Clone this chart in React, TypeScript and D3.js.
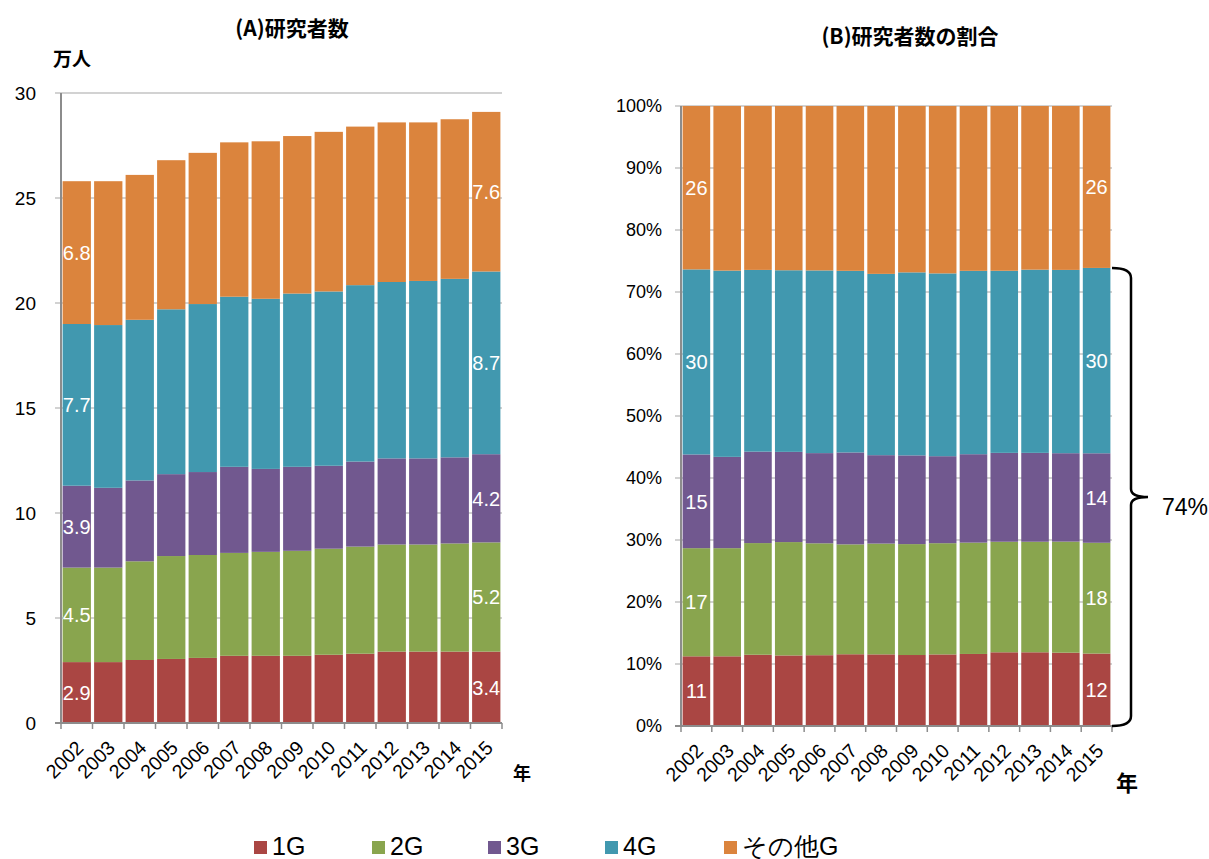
import * as d3 from "d3";

// 研究者数（万人）
const years = ["2002", "2003", "2004", "2005", "2006", "2007", "2008", "2009", "2010", "2011", "2012", "2013", "2014", "2015"];
const g1 = [2.9, 2.9, 3.0, 3.05, 3.1, 3.2, 3.2, 3.2, 3.25, 3.3, 3.4, 3.4, 3.4, 3.4];
const g2 = [4.5, 4.5, 4.7, 4.9, 4.9, 4.9, 4.95, 5.0, 5.05, 5.1, 5.1, 5.1, 5.15, 5.2];
const g3 = [3.9, 3.8, 3.85, 3.9, 3.95, 4.1, 3.95, 4.0, 3.95, 4.05, 4.1, 4.1, 4.1, 4.2];
const g4 = [7.7, 7.75, 7.65, 7.85, 8.0, 8.1, 8.1, 8.25, 8.3, 8.4, 8.4, 8.45, 8.5, 8.7];
const gOther = [6.8, 6.85, 6.9, 7.1, 7.2, 7.35, 7.5, 7.5, 7.6, 7.55, 7.6, 7.55, 7.6, 7.6];

const seriesNames = ["1G", "2G", "3G", "4G", "その他G"];
const colors = ["#AA4643", "#89A54E", "#71588F", "#4198AF", "#DB843D"];
const leftTicks = [0, 5, 10, 15, 20, 25, 30];
const rightTicks = [0, 0.1, 0.2, 0.3, 0.4, 0.5, 0.6, 0.7, 0.8, 0.9, 1];

const rows = years.map((y, i) => ({
  year: y,
  "1G": g1[i],
  "2G": g2[i],
  "3G": g3[i],
  "4G": g4[i],
  "その他G": gOther[i],
}));

const NUM = "'Liberation Sans', Arial, sans-serif";
const JP = "'Noto Sans CJK JP', 'Noto Sans', sans-serif";
const GRID = "#a6a6a6";
const AXIS = "#8c8c8c";

type PanelProps = {
  expand: boolean;
  x0: number; x1: number; yTop: number; yBottom: number;
  domain: [number, number];
  ticks: number[];
  tickFmt: (v: number) => string;
  labelFmt: (v: number) => string;
  tickFont: number;
  labelRight: number;
};

function Panel(p: PanelProps) {
  const stack = d3.stack<any>().keys(seriesNames);
  if (p.expand) stack.offset(d3.stackOffsetExpand);
  const layers = stack(rows);
  const x = d3.scaleBand().domain(years).range([p.x0, p.x1]).padding(0);
  const y = d3.scaleLinear().domain(p.domain).range([p.yBottom, p.yTop]);
  const bw = x.bandwidth();
  const gap = 1.6;
  const edges = [...years.map((yr) => x(yr)!), p.x1];

  return (
    <g>
      {p.ticks.map((t) => (
        <g key={t}>
          <line x1={p.x0 - 6} x2={p.x1} y1={y(t)} y2={y(t)} stroke={GRID} strokeWidth={1.2} />
          <text x={p.labelRight} y={y(t)} dy="0.35em" textAnchor="end" fontFamily={NUM} fontSize={p.tickFont} fill="#000">
            {p.tickFmt(t)}
          </text>
        </g>
      ))}
      {layers.map((layer, li) => (
        <g key={layer.key} fill={colors[li]}>
          {layer.map((d, i) => (
            <rect key={i} x={x(years[i])! + gap} width={bw - 2 * gap} y={y(d[1])} height={y(d[0]) - y(d[1])} />
          ))}
        </g>
      ))}
      {layers.map((layer) =>
        [0, years.length - 1].map((i) => {
          const d = layer[i];
          const v = d[1] - d[0];
          return (
            <text key={layer.key + i} x={x(years[i])! + bw / 2} y={(y(d[0]) + y(d[1])) / 2} dy="0.36em"
              textAnchor="middle" fontFamily={NUM} fontSize={20} fill="#fff">
              {p.labelFmt(v)}
            </text>
          );
        })
      )}
      <line x1={p.x0} x2={p.x0} y1={p.yTop} y2={p.yBottom} stroke={AXIS} strokeWidth={2} />
      <line x1={p.x0 - 6} x2={p.x1} y1={p.yBottom} y2={p.yBottom} stroke={AXIS} strokeWidth={2} />
      {edges.map((e, i) => (
        <line key={i} x1={e} x2={e} y1={p.yBottom} y2={p.yBottom + 6} stroke={AXIS} strokeWidth={1.5} />
      ))}
      {years.map((yr) => {
        const px = x(yr)! + bw / 2 + 8;
        const py = p.yBottom + 26;
        return (
          <text key={yr} x={px} y={py} textAnchor="end" transform={`rotate(-45,${px},${py})`}
            fontFamily={NUM} fontSize={19.5} fill="#000">
            {yr}
          </text>
        );
      })}
    </g>
  );
}

export default function App() {
  // share of 1G–4G in 2015 for the brace
  const i15 = years.length - 1;
  const total15 = g1[i15] + g2[i15] + g3[i15] + g4[i15] + gOther[i15];
  const share15 = (g1[i15] + g2[i15] + g3[i15] + g4[i15]) / total15;
  const yR = d3.scaleLinear().domain([0, 1]).range([726, 106]);
  const bTop = yR(share15);
  const bBot = yR(0);
  const bMid = (bTop + bBot) / 2;
  const bx0 = 1112, bx = 1131, tip = 1148;
  const brace = `M${bx0},${bTop} Q${bx},${bTop} ${bx},${bTop + 10} L${bx},${bMid - 8} Q${bx},${bMid} ${tip},${bMid} Q${bx},${bMid} ${bx},${bMid + 8} L${bx},${bBot - 10} Q${bx},${bBot} ${bx0},${bBot}`;

  const legendX = [254, 372, 488, 605, 724];

  return (
    <div style={{ position: "absolute", left: 0, top: 0 }}>
      <svg width={1209} height={859} style={{ display: "block", background: "#fff" }}>
        <text x={292} y={36} textAnchor="middle" fontFamily={JP} fontWeight="bold" fontSize={21}>(A)研究者数</text>
        <text x={53} y={66} fontFamily={JP} fontWeight="bold" fontSize={19}>万人</text>
        <text x={910} y={44} textAnchor="middle" fontFamily={JP} fontWeight="bold" fontSize={21}>(B)研究者数の割合</text>

        <Panel expand={false} x0={61} x1={502} yTop={93} yBottom={723} domain={[0, 30]} ticks={leftTicks}
          tickFmt={(v) => String(v)} labelFmt={(v) => v.toFixed(1)} tickFont={19} labelRight={36} />
        <Panel expand={true} x0={681} x1={1112} yTop={106} yBottom={726} domain={[0, 1]} ticks={rightTicks}
          tickFmt={(v) => Math.round(v * 100) + "%"} labelFmt={(v) => String(Math.round(v * 100))} tickFont={18} labelRight={662} />

        <text x={522} y={780} textAnchor="middle" fontFamily={JP} fontWeight="bold" fontSize={18}>年</text>
        <text x={1127} y={791} textAnchor="middle" fontFamily={JP} fontWeight="bold" fontSize={22}>年</text>

        <path d={brace} fill="none" stroke="#000" strokeWidth={2.5} />
        <text x={1162} y={507} dy="0.35em" fontFamily={NUM} fontSize={23}>74%</text>

        {seriesNames.map((s, i) => (
          <g key={s}>
            <rect x={legendX[i]} y={841} width={13} height={13} fill={colors[i]} />
            <text x={legendX[i] + 18} y={846} dy="0.36em" fontFamily={NUM} fontSize={25}>{s}</text>
          </g>
        ))}
      </svg>
    </div>
  );
}
